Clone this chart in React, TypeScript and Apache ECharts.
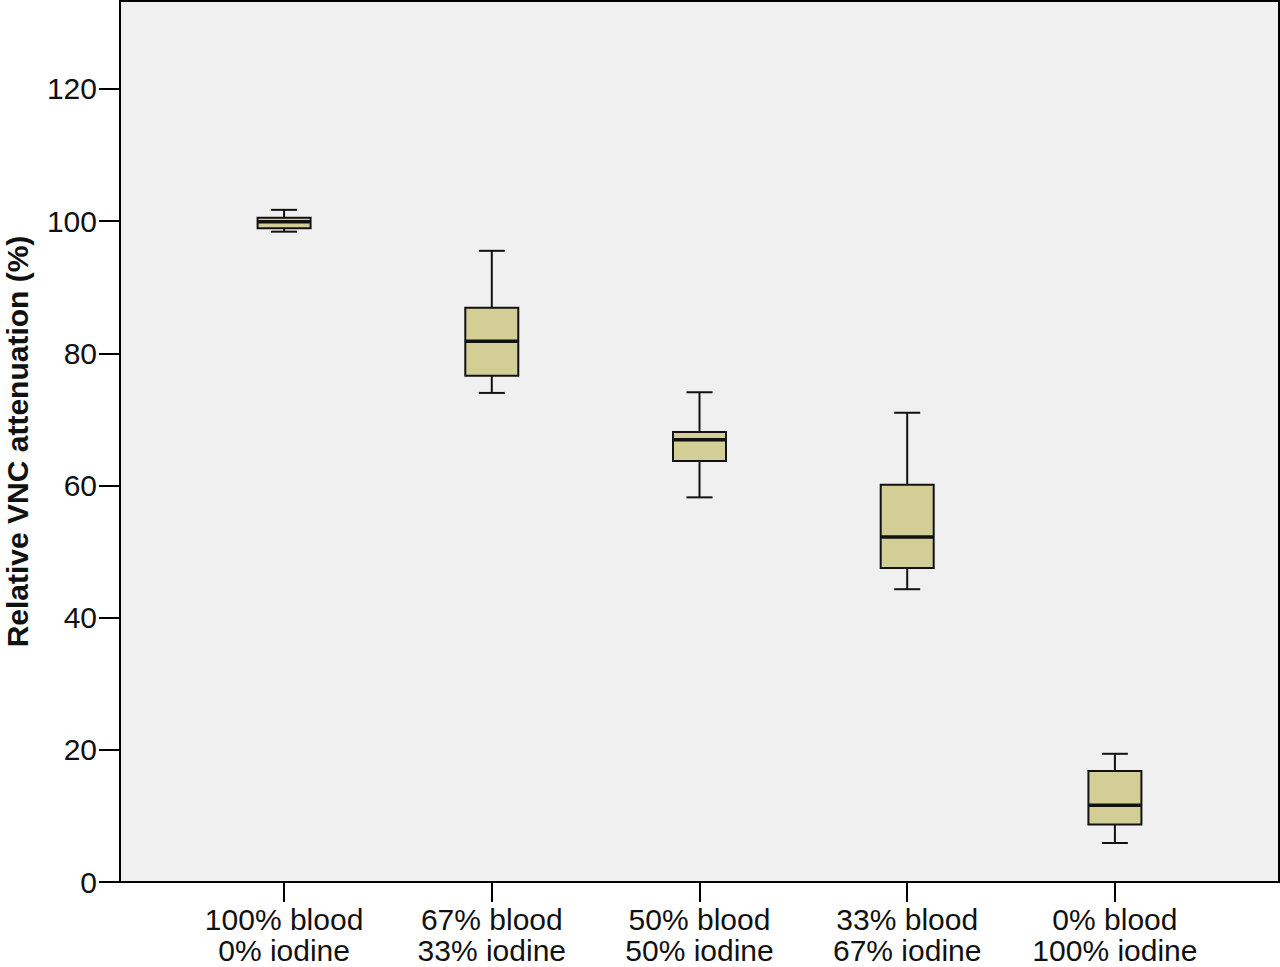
import React, { useEffect, useRef } from "react";
import * as echarts from "echarts";

const categories = [
  "100% blood\n0% iodine",
  "67% blood\n33% iodine",
  "50% blood\n50% iodine",
  "33% blood\n67% iodine",
  "0% blood\n100% iodine",
];
const whiskerLow = [98.4, 74.0, 58.2, 44.3, 5.9];
const q1 = [98.9, 76.6, 63.7, 47.5, 8.7];
const median = [99.9, 81.8, 66.9, 52.2, 11.6];
const q3 = [100.5, 86.9, 68.1, 60.1, 16.8];
const whiskerHigh = [101.7, 95.5, 74.1, 71.0, 19.4];
const yTicks = [0, 20, 40, 60, 80, 100, 120];
const xTicks = [0, 1, 2, 3, 4];

const FONT = "'Liberation Sans', Arial, Helvetica, sans-serif";

export default function App() {
  const ref = useRef<HTMLDivElement>(null);
  useEffect(() => {
    if (!ref.current) return;
    const chart = echarts.init(ref.current, null, { renderer: "svg" });
    const data = categories.map((_, i) => [
      i,
      whiskerLow[i],
      q1[i],
      median[i],
      q3[i],
      whiskerHigh[i],
    ]);
    chart.setOption({
      animation: false,
      backgroundColor: "#ffffff",
      grid: {
        left: 120,
        right: 1,
        top: 1,
        bottom: 85,
        show: true,
        backgroundColor: "#f0f0f0",
        borderColor: "#000",
        borderWidth: 2,
        containLabel: false,
        outerBoundsMode: "none",
      },
      xAxis: {
        type: "value",
        min: -0.79,
        max: 4.79,
        splitLine: { show: false },
        axisLine: { show: true, onZero: false, lineStyle: { color: "#000", width: 2 } },
        axisTick: {
          show: true,
          inside: false,
          length: 20,
          customValues: xTicks,
          lineStyle: { color: "#000", width: 2 },
        },
        axisLabel: {
          customValues: xTicks,
          formatter: (v: number) => categories[Math.round(v)] ?? "",
          color: "#111",
          fontFamily: FONT,
          fontSize: 30,
          lineHeight: 31,
          margin: 22,
        },
      },
      yAxis: {
        type: "value",
        min: 0,
        max: 133.3,
        interval: 20,
        splitLine: { show: false },
        axisLine: { show: true, onZero: false, lineStyle: { color: "#000", width: 2 } },
        axisTick: {
          show: true,
          inside: false,
          length: 21,
          customValues: yTicks,
          lineStyle: { color: "#000", width: 2 },
        },
        axisLabel: {
          customValues: yTicks,
          color: "#111",
          fontFamily: FONT,
          fontSize: 30,
          margin: 23,
        },
        name: "Relative VNC attenuation (%)",
        nameLocation: "middle",
        nameGap: 88,
        nameTextStyle: {
          color: "#111",
          fontFamily: FONT,
          fontWeight: "bold",
          fontSize: 30,
        },
      },
      series: [
        {
          type: "custom",
          encode: { x: 0, y: [1, 2, 3, 4, 5] },
          data,
          renderItem: (_params: any, api: any) => {
            const x = api.value(0);
            const lo = api.coord([x, api.value(1)]);
            const b1 = api.coord([x, api.value(2)]);
            const md = api.coord([x, api.value(3)]);
            const b3 = api.coord([x, api.value(4)]);
            const hi = api.coord([x, api.value(5)]);
            const cx = lo[0];
            const bw = 53;
            const cw = 26;
            const ls = { stroke: "#111", lineWidth: 2 };
            return {
              type: "group",
              children: [
                { type: "line", shape: { x1: cx, y1: hi[1], x2: cx, y2: b3[1] }, style: ls },
                { type: "line", shape: { x1: cx, y1: b1[1], x2: cx, y2: lo[1] }, style: ls },
                { type: "line", shape: { x1: cx - cw / 2, y1: hi[1], x2: cx + cw / 2, y2: hi[1] }, style: ls },
                { type: "line", shape: { x1: cx - cw / 2, y1: lo[1], x2: cx + cw / 2, y2: lo[1] }, style: ls },
                {
                  type: "rect",
                  shape: { x: cx - bw / 2, y: b3[1], width: bw, height: b1[1] - b3[1] },
                  style: { fill: "#d2ce96", stroke: "#111", lineWidth: 2 },
                },
                {
                  type: "line",
                  shape: { x1: cx - bw / 2, y1: md[1], x2: cx + bw / 2, y2: md[1] },
                  style: { stroke: "#111", lineWidth: 3.5 },
                },
              ],
            };
          },
        },
      ],
    });
    return () => chart.dispose();
  }, []);
  return (
    <div
      ref={ref}
      style={{ position: "fixed", left: 0, top: 0, width: 1280, height: 967 }}
    />
  );
}
